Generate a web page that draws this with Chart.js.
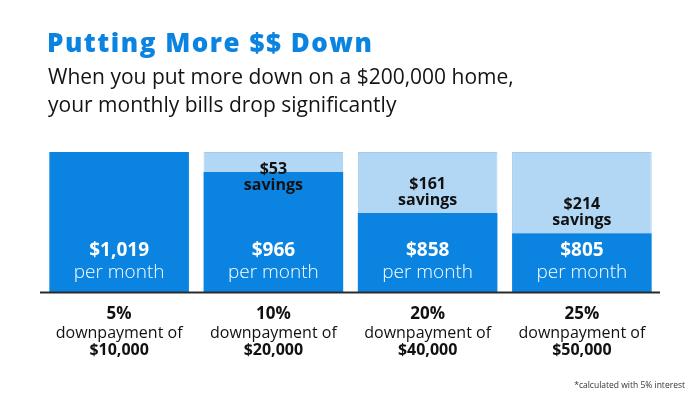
<!DOCTYPE html>
<html>
<head>
<meta charset="utf-8">
<script src="https://cdn.jsdelivr.net/npm/chart.js@4.4.1/dist/chart.umd.min.js"></script>
<style>
  html, body { margin: 0; padding: 0; background: #fff; }
  #wrap { position: relative; width: 700px; height: 400px; overflow: hidden; font-family: "Open Sans", sans-serif; }
  #c { position: absolute; left: 0; top: 0; }
  .title { position: absolute; left: 47px; top: 26px; font-size: 26px; line-height: 32px; font-weight: 800; color: #0a84e0; letter-spacing: 1.5px; white-space: nowrap; }
  .subtitle { position: absolute; left: 48px; top: 62px; font-size: 21px; line-height: 28px; font-weight: 400; color: #141414; white-space: nowrap; }
  .note { position: absolute; right: 15px; top: 379px; font-size: 8.5px; line-height: 12px; color: #333; white-space: nowrap; }
</style>
</head>
<body>
<div id="wrap">
  <canvas id="c" width="700" height="400"></canvas>
  <div class="title">Putting More $$ Down</div>
  <div class="subtitle">When you put more down on a $200,000 home,<br>your monthly bills drop significantly</div>
  <div class="note">*calculated with 5% interest</div>
</div>
<script>
// ---- data ----
const percentLabels = ['5%', '10%', '20%', '25%'];
const downpaymentLabels = ['$10,000', '$20,000', '$40,000', '$50,000'];
const monthlyPayment = [1019, 966, 858, 805];
const monthlySavings = [0, 53, 161, 214];

const DARK = '#0a84e0';
const LIGHT = '#b2d7f5';

function money(v) { return '$' + v.toLocaleString('en-US'); }

const labelPlugin = {
  id: 'labelPlugin',
  afterDatasetsDraw(chart) {
    const ctx = chart.ctx;
    const area = chart.chartArea;
    const base = area.bottom;
    const m0 = chart.getDatasetMeta(0);
    const m1 = chart.getDatasetMeta(1);
    ctx.save();
    // baseline
    ctx.fillStyle = '#2a2a2a';
    ctx.fillRect(area.left - 2, base - 0.5, area.right - area.left + 3, 2);
    ctx.textAlign = 'center';
    ctx.textBaseline = 'alphabetic';
    for (let i = 0; i < monthlyPayment.length; i++) {
      const x = m0.data[i].x;
      // payment label
      ctx.fillStyle = '#ffffff';
      ctx.font = '700 19px "Open Sans"';
      ctx.fillText(money(monthlyPayment[i]), x, base - 36);
      ctx.font = '300 19px "Open Sans"';
      ctx.fillText('per month', x, base - 14);
      // savings label
      if (monthlySavings[i] > 0) {
        const darkTop = m0.data[i].y;
        const barTop = m1.data[i].y;
        const y1 = Math.max(darkTop - 24, barTop + 22);
        ctx.fillStyle = '#111111';
        ctx.font = '700 16px "Open Sans"';
        ctx.fillText(money(monthlySavings[i]), x, y1);
        ctx.fillText('savings', x, y1 + 16);
      }
      // category labels
      ctx.fillStyle = '#111111';
      ctx.font = '700 17px "Open Sans"';
      ctx.fillText(percentLabels[i], x, base + 27);
      ctx.font = '400 16px "Open Sans"';
      ctx.fillText('downpayment of', x, base + 46);
      ctx.font = '700 16px "Open Sans"';
      ctx.fillText(downpaymentLabels[i], x, base + 63);
    }
    ctx.restore();
  }
};

new Chart(document.getElementById('c'), {
  type: 'bar',
  data: {
    labels: percentLabels,
    datasets: [
      { label: 'Monthly payment', data: monthlyPayment, backgroundColor: DARK, borderWidth: 0 },
      { label: 'Savings', data: monthlySavings, backgroundColor: LIGHT, borderColor: '#9fcbef', borderWidth: 1, borderSkipped: 'bottom' }
    ]
  },
  options: {
    responsive: false,
    devicePixelRatio: 1,
    animation: false,
    layout: { padding: { left: 42, right: 41, top: 152, bottom: 108 } },
    datasets: { bar: { barPercentage: 0.905, categoryPercentage: 1 } },
    scales: {
      x: { stacked: true, display: false },
      y: { stacked: true, display: false, min: 650, max: 1019 }
    },
    plugins: { legend: { display: false }, tooltip: { enabled: false }, title: { display: false } }
  },
  plugins: [labelPlugin]
});
</script>
</body>
</html>
